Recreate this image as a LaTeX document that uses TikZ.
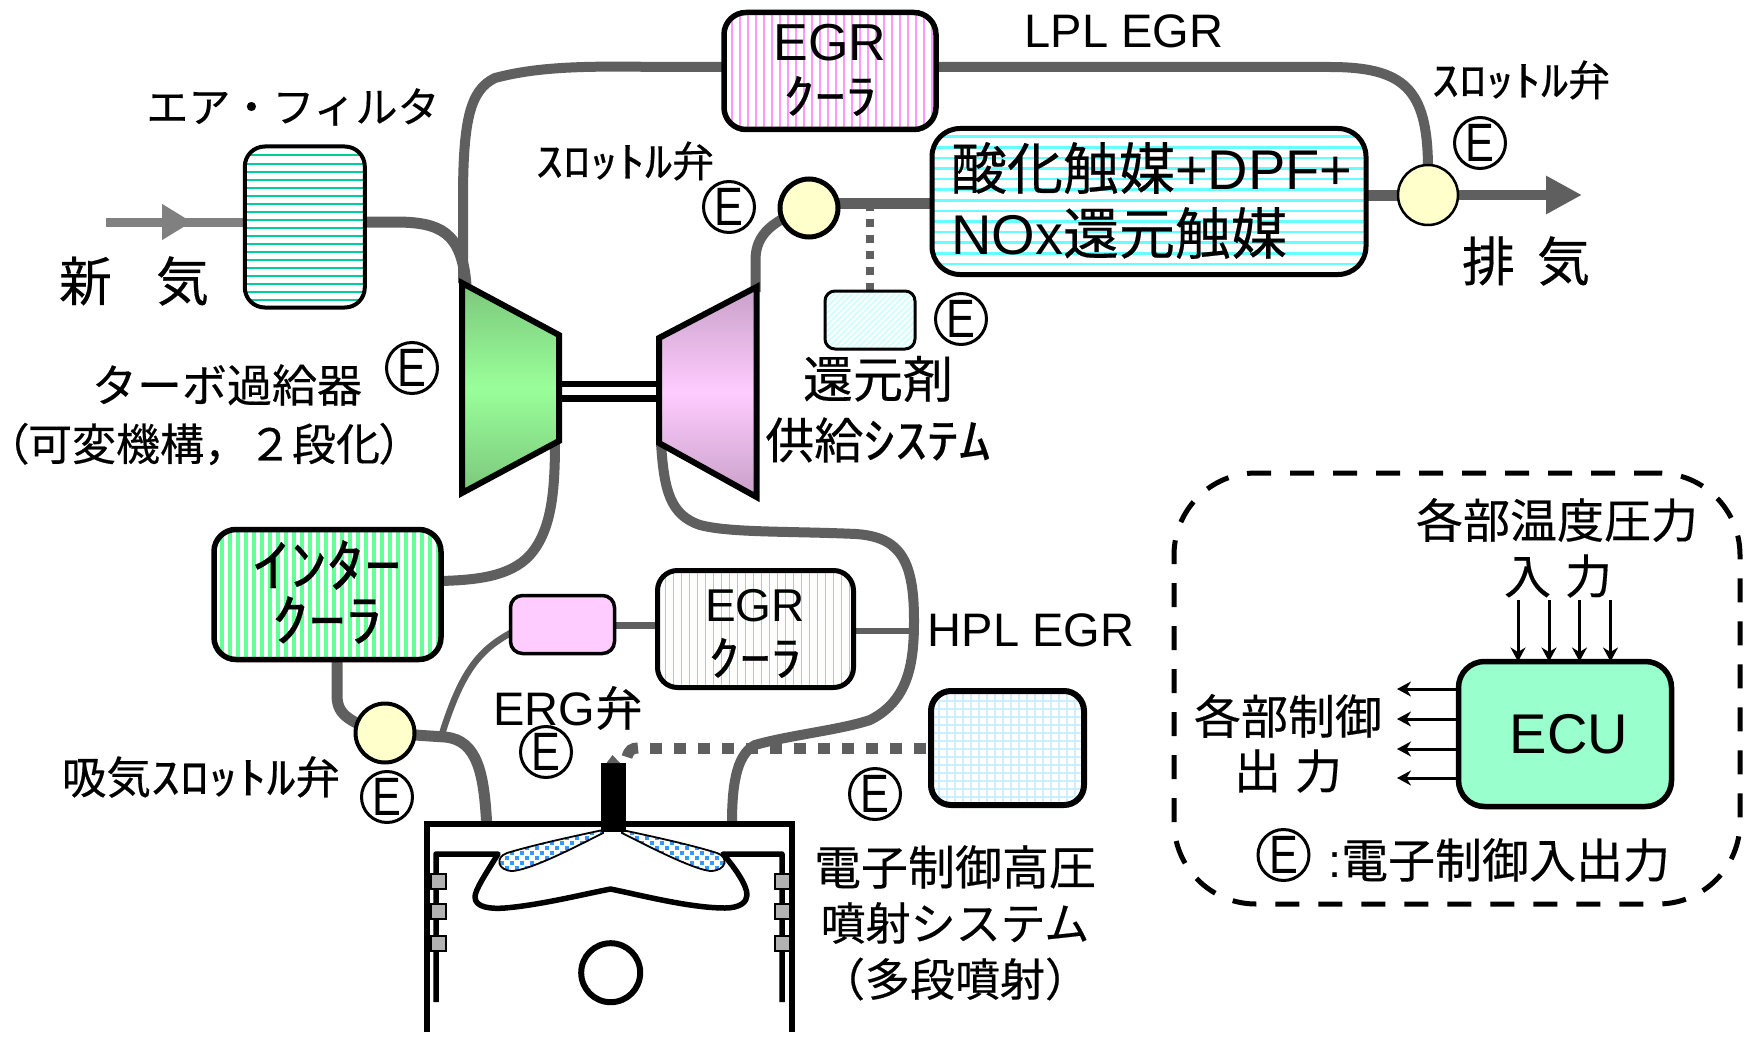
\documentclass[tikz,border=0pt]{standalone}
\usepackage{fontspec}
\setmainfont{Liberation Sans}
\newfontfamily\jp[FakeBold=0.35]{Noto Sans CJK JP}
\usetikzlibrary{arrows.meta,calc,shapes.geometric}
\pgfdeclarelayer{back}\pgfdeclarelayer{bg}
\pgfsetlayers{back,bg,main}
\newcommand{\fs}[1]{\fontsize{#1pt}{#1pt}\selectfont}
\newcommand{\hk}[1]{\scalebox{1.3}[1]{#1}}
\newcommand{\emark}{\raisebox{-2pt}{\scalebox{.8}[1]{E}}}
\definecolor{pipe}{HTML}{5F5F5F}
\definecolor{airpipe}{HTML}{808080}
\definecolor{valvefill}{HTML}{FFFFCC}
\definecolor{filtgreen}{HTML}{00CC99}
\definecolor{egrpink}{HTML}{FF99FF}
\definecolor{catcyan}{HTML}{66FFFF}
\definecolor{icgreen}{HTML}{66FF99}
\definecolor{pinkbox}{HTML}{FFCCFF}
\definecolor{ecugreen}{HTML}{99FFCC}
\definecolor{redhatch}{HTML}{CCFFFF}
\definecolor{railgrid}{HTML}{CCEEFF}
\definecolor{ringgray}{HTML}{B2B2B2}
\definecolor{spraydot}{HTML}{3399FF}
\tikzset{
  x=1pt,y=-1pt,
  boxbase/.style={draw=black,inner sep=0pt,outer sep=0pt,rounded corners=#1},
  vstripes/.style n args={3}{path picture={\foreach \i in {0,...,60}{\draw[#1,line width=#2,sharp corners]
     ([xshift=\i*#3]path picture bounding box.south west)--([xshift=\i*#3]path picture bounding box.north west);}}},
  hstripes/.style n args={3}{path picture={\foreach \i in {0,...,40}{\draw[#1,line width=#2,sharp corners]
     ([yshift=\i*#3]path picture bounding box.south west)--([yshift=\i*#3]path picture bounding box.south east);}}},
  diagh/.style={path picture={\foreach \i in {0,...,30}{\draw[redhatch,line width=1.5pt,sharp corners]
     ([xshift=\i*6pt-70pt]path picture bounding box.south west)--([xshift=\i*6pt,yshift=70pt]path picture bounding box.south west);}}},
  gridp/.style={path picture={
     \foreach \i in {0,...,25}{\draw[railgrid,line width=2.4pt,sharp corners]
     ([xshift=\i*8pt]path picture bounding box.south west)--([xshift=\i*8pt]path picture bounding box.north west);}
     \foreach \i in {0,...,20}{\draw[railgrid,line width=2.4pt,sharp corners]
     ([yshift=\i*8pt]path picture bounding box.south west)--([yshift=\i*8pt]path picture bounding box.south east);}}},
  valve/.style={ellipse,draw=black,fill=valvefill,minimum width=#1,minimum height=#1,inner sep=0pt,outer sep=0pt},
  ecirc/.style={circle,draw=black,line width=3pt,fill=none,minimum size=51pt,inner sep=0pt,font=\fs{54}},
  lab/.style={inner sep=0pt,outer sep=0pt,font=\fs{#1}\jp},
  pipeline/.style={draw=pipe,line width=#1,line cap=butt},
  sig/.style={draw=black,line width=3pt,-{Stealth[length=14pt,width=15pt]}},
  ring/.style={draw=black,fill=ringgray,line width=1.5pt},
  engline/.style={draw=black,line width=#1,line cap=butt,line join=miter},
}
\begin{document}
\begin{tikzpicture}
\useasboundingbox (0,0) rectangle (1748,1038);
\begin{pgfonlayer}{back}\fill[white] (0,0) rectangle (1748,1038);\end{pgfonlayer}

% component boxes
\node[boxbase=20pt,line width=4pt,minimum width=120pt,minimum height=161pt,hstripes={filtgreen}{2pt}{8pt}] (filt) at (304.8,227) {};
\node[boxbase=22pt,line width=5.5pt,minimum width=212pt,minimum height=117pt,vstripes={egrpink}{1.8pt}{8pt}] (egrtop) at (830,71) {};
\node[boxbase=28pt,line width=5pt,minimum width=434pt,minimum height=146pt,hstripes={catcyan}{2.6pt}{10.6pt}] (cat) at (1149,201.5) {};
\node[boxbase=22pt,line width=5.5pt,minimum width=227pt,minimum height=130pt,vstripes={icgreen}{4pt}{8pt}] (ic) at (327.5,594.5) {};
\node[boxbase=12pt,line width=3.5pt,fill=pinkbox,minimum width=104pt,minimum height=58pt] (pink) at (562.5,624.5) {};
\node[boxbase=20pt,line width=5pt,minimum width=196pt,minimum height=117pt,vstripes={egrpink}{1.8pt}{8pt}] (egrbot) at (755.5,629) {};
\node[boxbase=10pt,line width=3pt,minimum width=90pt,minimum height=58pt,diagh] (red) at (870,320) {};
\node[boxbase=20pt,line width=6pt,minimum width=153pt,minimum height=114pt,gridp] (rail) at (1007.5,748) {};
\node[boxbase=26pt,line width=5.5pt,fill=ecugreen,minimum width=213pt,minimum height=145pt] (ecu) at (1565,734) {};
\node[boxbase=82pt,line width=5pt,dash pattern=on 24pt off 19pt,minimum width=566pt,minimum height=431pt] (ctrl) at (1457,688.5) {};

% compressor and turbine
\coordinate (comptop) at (462,283);
\coordinate (compbot) at (559,441);
\coordinate (turbtop) at (756.5,287);
\coordinate (turbbot) at (659,443);
\draw[draw=black,line width=6pt,line join=miter,shade,top color={rgb,255:red,124;green,199;blue,124},bottom color={rgb,255:red,124;green,199;blue,124},middle color={rgb,255:red,153;green,255;blue,153}]
  (462,283)--(559,335)--(559,441)--(462,493)--cycle;
\draw[draw=black,line width=6pt,line join=miter,shade,top color={rgb,255:red,200;green,160;blue,200},bottom color={rgb,255:red,200;green,160;blue,200},middle color={rgb,255:red,255;green,204;blue,255}]
  (756.5,287)--(659,338)--(659,443)--(756.5,497)--cycle;
\draw[draw=black,line width=6.5pt] (559,384)--(659,384);
\draw[draw=black,line width=6.5pt] (559,398.3)--(659,398.3);

% valves
\node[valve=58pt,line width=5pt] (v1) at (809,208) {};
\node[valve=60pt,line width=2.5pt] (v2) at (1428,195) {};
\node[valve=59pt,line width=4pt] (v3) at (385,733) {};

% engine
\coordinate (engL) at (486.7,824);
\coordinate (engR) at (732,824);
\coordinate (inj) at (613.5,763);
\draw[engline=6pt] (426.7,1032)--(426.7,824)--(791.7,824)--(791.7,1032);
\draw[engline=5.5pt,line join=round] (436,1002)--(436,854)--(498,854) .. controls (485,875) and (475,890) .. (475,897) .. controls (475,908) and (492,909) .. (505,908) .. controls (540,905) and (580,895) .. (610.5,889) .. controls (640,895) and (690,908) .. (725,908) .. controls (740,908) and (747,902) .. (747,895) .. controls (747,885) and (735,868) .. (723,854)--(782,854)--(782,1002);
\foreach \yy in {874,904,936}{
  \draw[ring] (431,\yy) rectangle (446,\yy+15);
  \draw[ring] (775,\yy) rectangle (790,\yy+15);
}
\draw[draw=black,line width=6pt] (610.7,972.7) circle (29.5);
% spray
\def\sprayL{(603,830) .. controls (565,838) and (530,846) .. (507,853) .. controls (495,857) and (497,871) .. (513,871) .. controls (530,869) and (560,855) .. (603,833) -- cycle}
\def\sprayR{(622,830) .. controls (660,838) and (695,846) .. (717,853) .. controls (729,857) and (727,871) .. (710,871) .. controls (695,869) and (665,855) .. (622,833) -- cycle}
\fill[white] \sprayL; \fill[white] \sprayR;
\begin{scope}
\clip \sprayL \sprayR;
\foreach \r in {0,...,10}{\foreach \c in {0,...,24}{
  \pgfmathsetmacro{\xa}{495+\c*10+mod(\r,2)*5}
  \pgfmathsetmacro{\ya}{826+\r*5}
  \fill[spraydot] (\xa,\ya) rectangle ++(3.8,3.8);
}}
\end{scope}
\draw[black,line width=1.8pt] \sprayL; \draw[black,line width=1.8pt] \sprayR;
\fill[black] (601,763) rectangle (626,832);
\fill[pipe] (606.5,763)--(612.5,755)--(620,763)--cycle;

% pipes
\begin{pgfonlayer}{bg}
\coordinate (airin) at (106,222);
\coordinate (airtip) at (192,222);
\coordinate (exhaust) at (1582,195);
\coordinate (tee) at (463,262);
\draw[draw=airpipe,line width=9pt] (airin)--(filt.west |- airin);
\draw[draw=airpipe,line width=9pt,-{Triangle[length=30pt,width=34pt]}] (airin)--(airtip);
\draw[pipeline=11pt] (filt.east |- airtip) -- (395,222) .. controls (440,222) and (462,232) .. (466,285);
\draw[pipeline=10pt] (tee |- comptop) -- (463,200) .. controls (463,120) and (470,90) .. (495,78) .. controls (540,66) and (590,66) .. (660,67) -- (egrtop.west |- 0,67);
\draw[pipeline=10pt] (egrtop.east |- 0,67) -- (1330,67) .. controls (1405,67) and (1427,90) .. (v2.north);
\draw[pipeline=11pt] (v1.east |- cat.west) ++(0,2) -- (cat.west |- 0,203.5);
\draw[pipeline=10pt] (turbtop) ++(-1,5) -- ++(0,-30) .. controls (755,240) and (765,222) .. (v1.center);
\draw[pipeline=11pt] (cat.east |- v2.west) -- (v2.center);
\draw[pipeline=10pt,-{Triangle[length=36pt,width=36pt]}] (v2.center)--(exhaust);
\draw[draw=pipe,line width=8pt,dash pattern=on 8pt off 8pt] (red.north)--(red.north |- v1.east);
\draw[pipeline=10pt] (compbot) ++(-4,0) .. controls (555,490) and (552,530) .. (530,555) .. controls (510,577) and (475,580) .. (ic.east |- 0,581);
\draw[pipeline=10pt] (turbbot) ++(2,0) .. controls (664,490) and (670,515) .. (700,525) .. controls (730,533) and (790,531) .. (856,534) .. controls (900,537) and (914,560) .. (914,620) .. controls (914,660) and (910,700) .. (870,720) .. controls (840,730) and (790,735) .. (755,745) .. controls (735,755) and (732,790) .. (engR);
\draw[draw=pipe,line width=5.5pt] (egrbot.east |- 0,631)--(912,631);
\draw[draw=pipe,line width=7pt] (pink.east |- egrbot.west)++(0,-4)--(egrbot.west |- 0,625);
\draw[draw=pipe,line width=6.5pt] (pink.west |- 0,633) .. controls (480,650) and (462,670) .. (442,734);
\draw[pipeline=11pt] (v3.center) -- (445,737) .. controls (478,740) and (484,775) .. (engL);
\draw[pipeline=11pt] (ic.south -| 337,0) -- (337,695) .. controls (337,712) and (345,722) .. (v3.center);
\draw[draw=pipe,line width=11pt,dash pattern=on 12pt off 12pt] (650,748)--(rail.west |- 0,748);
\draw[pipeline=11pt] (638,748) .. controls (632,748) and (629,750) .. (627,757);
\end{pgfonlayer}

% signals
\foreach \n/\xx in {a/1518,b/1549,c/1579.5,d/1610.5}{
  \coordinate (in\n) at (\xx,600);
  \draw[sig] (in\n)--(ecu.north -| in\n);
}
\foreach \n/\yy in {a/689,b/719,c/749,d/778}{
  \coordinate (out\n) at (1397,\yy);
  \draw[sig] (ecu.west |- out\n)--(out\n);
}

% E marks
\node[ecirc] (e1) at (1480,143) {\emark};
\node[ecirc] (e2) at (729,207) {\emark};
\node[ecirc] (e3) at (961,319) {\emark};
\node[ecirc] (e4) at (412,368) {\emark};
\node[ecirc] (e5) at (546,752) {\emark};
\node[ecirc] (e6) at (387,797) {\emark};
\node[ecirc] (e7) at (875,794) {\emark};
\node[ecirc] (e8) at (1283.5,855) {\emark};

% labels
\node[lab=42] (tfilt) at (293,107) {エア・フィルタ};
\node[lab=53] (tnew) at (134,281) {新\hspace{44pt}気};
\node[lab=53] (texh) at (1526,261) {排\hspace{22pt}気};
\node[lab=47,font=\fs{47}] (tlpl) at (1124,31) {LPL EGR};
\node[lab=42] (tth1) at (1521,80) {\hk{ｽﾛｯﾄﾙ}弁};
\node[lab=42] (tth2) at (625,161) {\hk{ｽﾛｯﾄﾙ}弁};
\node[lab=44.5] (tth3) at (201,777) {吸気\hk{ｽﾛｯﾄﾙ}弁};
\node[lab=45] (ttc) at (227,385) {ターボ過給器};
\node[lab=44] (ttc2) at (204,444) {{\addfontfeature{RawFeature=+palt}（}可変機構，２段化{\addfontfeature{RawFeature=+palt}）}};
\node[lab=50] (tred) at (878,379) {還元剤};
\node[lab=49] (tred2) at (878,440) {供給\hk{ｼｽﾃﾑ}};
\node[lab=52,font=\fs{52}] (tegr1) at (830,43) {EGR};
\node[lab=48] (tcool1) at (830,96) {\hk{ｸｰﾗ}};
\node[lab=57] (tic1) at (327,565) {\hk{ｲﾝﾀｰ}};
\node[lab=57] (tic2) at (327,620) {\hk{ｸｰﾗ}};
\node[lab=46,font=\fs{46}] (tegr2) at (755,606) {EGR};
\node[lab=48] (tcool2) at (755,658) {\hk{ｸｰﾗ}};
\node[lab=56,anchor=west] (tcat1) at (951,168) {酸化触媒{\fontspec{Liberation Sans}+DPF+}};
\node[lab=56,anchor=west] (tcat2) at (951,233) {{\fontspec{Liberation Sans}NOx}還元触媒};
\node[lab=56,font=\fs{56}] (tecu) at (1569,734) {ECU};
\node[lab=47] (tin1) at (1557,520) {各部温度圧力};
\node[lab=47] (tin2) at (1558,576) {入\hspace{14pt}力};
\node[lab=47] (tout1) at (1288,716) {各部制御};
\node[lab=47] (tout2) at (1288,771) {出\hspace{14pt}力};
\node[lab=47,anchor=west] (tkey) at (1328,860) {{\fontspec{Liberation Sans}:}電子制御入出力};
\node[lab=47] (tinj1) at (955,867) {電子制御高圧};
\node[lab=45] (tinj2) at (955,923) {噴射システム};
\node[lab=45] (tinj3) at (955,979) {（多段噴射）};
\node[lab=47,font=\fs{47}] (thpl) at (1031,630) {HPL EGR};
\node[lab=47] (terg) at (568,708) {{\fontspec{Liberation Sans}ERG}弁};
\end{tikzpicture}
\end{document}
